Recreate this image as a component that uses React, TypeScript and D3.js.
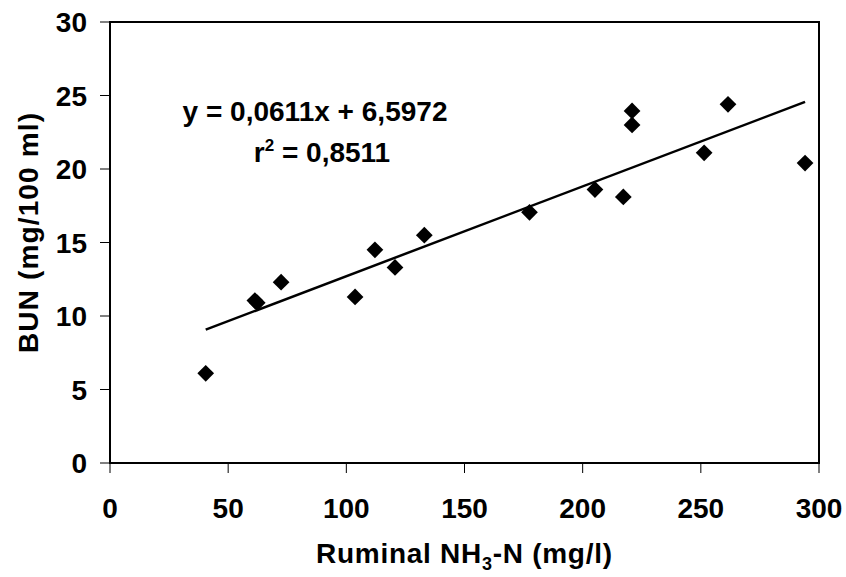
import React from 'react';
import * as d3 from 'd3';

// ruminal ammonia (mg/l) vs blood urea nitrogen (mg/100 ml)
const nh3 = [40.5, 61.3, 62.3, 72.4, 103.7, 112.1, 120.6, 133.0, 177.5, 205.2, 217.2, 220.9, 220.9, 251.4, 261.5, 294.1];
const bun = [6.1, 11.05, 10.9, 12.3, 11.3, 14.5, 13.3, 15.5, 17.05, 18.6, 18.1, 23.95, 23.0, 21.1, 24.4, 20.4];
const xTicks = [0, 50, 100, 150, 200, 250, 300];
const yTicks = [0, 5, 10, 15, 20, 25, 30];
const slope = 0.0611;
const intercept = 6.5972;

const width = 846;
const height = 577;
const margin = { top: 22, right: 27, bottom: 114, left: 110 };
const font = 'Arial, "Liberation Sans", sans-serif';

export default function App() {
  const x = d3.scaleLinear().domain([0, 300]).range([margin.left, width - margin.right]);
  const y = d3.scaleLinear().domain([0, 30]).range([height - margin.bottom, margin.top]);

  const diamond = d3.symbol().type(d3.symbolSquare).size(140);
  const xMin = d3.min(nh3) as number;
  const xMax = d3.max(nh3) as number;
  const trend = d3.line<number>()
    .x((d) => x(d))
    .y((d) => y(slope * d + intercept))([xMin, xMax]);

  return (
    <svg
      width={width}
      height={height}
      style={{ position: 'absolute', left: 0, top: 0, background: '#fff' }}
      fontFamily={font}
      fontWeight="bold"
    >
      {/* plot frame */}
      <rect
        x={x(0)}
        y={y(30)}
        width={x(300) - x(0)}
        height={y(0) - y(30)}
        fill="none"
        stroke="#000"
        strokeWidth={2}
      />

      {/* y ticks */}
      {yTicks.map((t) => (
        <g key={'y' + t}>
          <line x1={x(0) - 10} x2={x(0)} y1={y(t)} y2={y(t)} stroke="#000" strokeWidth={1} />
          <text x={x(0) - 23} y={y(t)} dy="0.36em" textAnchor="end" fontSize={28}>
            {t}
          </text>
        </g>
      ))}

      {/* x ticks */}
      {xTicks.map((t) => (
        <g key={'x' + t}>
          <line x1={x(t)} x2={x(t)} y1={y(0)} y2={y(0) + 10} stroke="#000" strokeWidth={1} />
          <text x={x(t)} y={518} textAnchor="middle" fontSize={28}>
            {t}
          </text>
        </g>
      ))}

      {/* trend line */}
      <path d={trend || ''} fill="none" stroke="#000" strokeWidth={2.5} />

      {/* points */}
      {nh3.map((v, i) => (
        <path
          key={i}
          d={diamond() || ''}
          transform={`translate(${x(v)},${y(bun[i])}) rotate(45)`}
          fill="#000"
        />
      ))}

      {/* equation */}
      <text x={315} y={121} textAnchor="middle" fontSize={28} textLength={265} lengthAdjust="spacing">
        y = 0,0611x + 6,5972
      </text>
      <text x={322} y={162} textAnchor="middle" fontSize={28}>
        r<tspan dy={-11} fontSize={17}>2</tspan>
        <tspan dy={11}> = 0,8511</tspan>
      </text>

      {/* axis titles */}
      <text x={316} y={563} fontSize={28} textLength={296} lengthAdjust="spacing">
        Ruminal NH<tspan dy={7} fontSize={18}>3</tspan>
        <tspan dy={-7}>-N (mg/l)</tspan>
      </text>
      <text
        transform={`translate(38,233) rotate(-90)`}
        textAnchor="middle"
        fontSize={28}
        textLength={240}
        lengthAdjust="spacing"
      >
        BUN (mg/100 ml)
      </text>
    </svg>
  );
}
